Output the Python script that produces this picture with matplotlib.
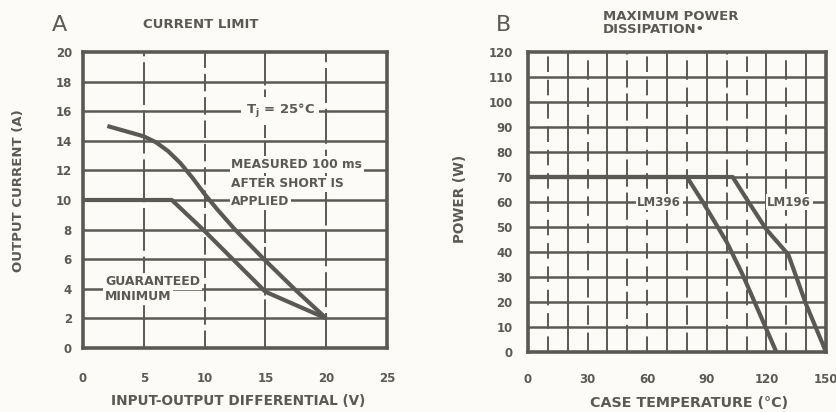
import matplotlib.pyplot as plt
import numpy as np

# ── Data ──
# Panel A: current limit vs input-output differential
measured_v = [2, 5, 6, 7, 8, 9, 10, 11, 12.5, 15, 17.5, 20]
measured_a = [15.0, 14.3, 13.9, 13.3, 12.5, 11.5, 10.4, 9.4, 8.0, 5.9, 3.9, 2.0]
guaranteed_v = [0, 7.3, 10, 15, 20]
guaranteed_a = [10.0, 10.0, 7.9, 3.8, 2.0]
a_xticks = [0, 5, 10, 15, 20, 25]
a_yticks = [0, 2, 4, 6, 8, 10, 12, 14, 16, 18, 20]

# Panel B: max power dissipation vs case temperature
lm396_t = [0, 80, 88, 100, 108, 125]
lm396_p = [70, 70, 60, 44, 31, 0]
lm196_t = [0, 103, 111, 120, 131, 140, 150]
lm196_p = [70, 70, 60, 49, 39, 19, 0]
b_xticks = [0, 30, 60, 90, 120, 150]
b_yticks = [0, 10, 20, 30, 40, 50, 60, 70, 80, 90, 100, 110, 120]

ink = "#5a5954"
paper = "#fcfbf7"
plt.rcParams["font.family"] = ["DejaVu Sans"]
plt.rcParams["font.weight"] = "bold"

fig = plt.figure(figsize=(8.37, 4.12), dpi=100, facecolor=paper)


def style_axes(ax, xgrid, ygrid, xlim, ylim, dash):
    ax.set_facecolor(paper)
    ax.set_xlim(*xlim)
    ax.set_ylim(*ylim)
    for g in ygrid:
        ax.axhline(g, color=ink, lw=1.8, zorder=1)
    for i, g in enumerate(xgrid):
        ax.axvline(g, color=ink, lw=1.4, ls=dash[i % len(dash)], zorder=1)
    for s in ax.spines.values():
        s.set_color(ink)
        s.set_linewidth(2.6)
    ax.tick_params(length=0, colors=ink, labelsize=8.5)


box = dict(facecolor=paper, edgecolor="none", pad=1.2)

# ── Panel A ──
axA = fig.add_axes([0.0992, 0.1553, 0.3632, 0.7185])
style_axes(axA, a_xticks[1:-1], a_yticks[1:-1], (0, 25), (0, 20),
           [(0, (22, 3)), (0, (9, 3)), (0, (25, 2)), (0, (18, 3))])
axA.set_xticks(a_xticks)
axA.set_yticks(a_yticks)
axA.tick_params(axis="x", pad=17)
axA.tick_params(axis="y", pad=8)
for lab in axA.get_xticklabels() + axA.get_yticklabels():
    lab.set_fontweight("bold")
axA.plot(measured_v, measured_a, color=ink, lw=3.0, zorder=3, solid_capstyle="butt")
axA.plot(guaranteed_v, guaranteed_a, color=ink, lw=3.0, zorder=3, solid_capstyle="butt")
axA.text(16.2, 16, r"T$_\mathregular{j}$ = 25°C", color=ink, fontsize=9.5, ha="center",
         va="center", bbox=dict(facecolor=paper, edgecolor="none", pad=3.5), zorder=4)
for txt, yv in [("MEASURED 100 ms", 12.4), ("AFTER SHORT IS", 11.1), ("APPLIED", 9.9)]:
    axA.text(12.2, yv, txt, color=ink, fontsize=8.8, ha="left", va="center", bbox=box, zorder=4)
axA.text(1.8, 4.5, "GUARANTEED", color=ink, fontsize=9, ha="left", va="center", bbox=box, zorder=4)
axA.text(1.8, 3.5, "MINIMUM", color=ink, fontsize=9, ha="left", va="center", bbox=box, zorder=4)
axA.set_xlabel("INPUT-OUTPUT DIFFERENTIAL (V)", color=ink, fontsize=9.8, fontweight="bold")
axA.set_ylabel("OUTPUT CURRENT (A)", color=ink, fontsize=9.5, fontweight="bold")
axA.xaxis.set_label_coords(0.51, -0.155)
axA.yaxis.set_label_coords(-0.19, 0.53)
fig.text(0.062, 0.94, "A", color=ink, fontsize=16, fontweight="normal", va="center")
fig.text(0.171, 0.94, "CURRENT LIMIT", color=ink, fontsize=9.5, va="center")

# ── Panel B ──
axB = fig.add_axes([0.6308, 0.1456, 0.3561, 0.7282])
style_axes(axB, list(range(10, 150, 10)), b_yticks[1:-1], (0, 150), (0, 120),
           [(0, (8, 4)), "-", (0, (10, 4)), "-", (0, (14, 3))])
axB.set_xticks(b_xticks)
axB.set_yticks(b_yticks)
axB.tick_params(axis="x", pad=15)
axB.tick_params(axis="y", pad=11)
for lab in axB.get_xticklabels() + axB.get_yticklabels():
    lab.set_fontweight("bold")
axB.plot(lm396_t, lm396_p, color=ink, lw=3.0, zorder=3)
axB.plot(lm196_t, lm196_p, color=ink, lw=3.0, zorder=3)
axB.text(66, 60, "LM396", color=ink, fontsize=8.5, ha="center", va="center", bbox=box, zorder=4)
axB.text(131.5, 60, "LM196", color=ink, fontsize=8.5, ha="center", va="center", bbox=box, zorder=4)
axB.set_xlabel("CASE TEMPERATURE (°C)", color=ink, fontsize=10.3, fontweight="bold")
axB.set_ylabel("POWER (W)", color=ink, fontsize=9.8, fontweight="bold")
axB.xaxis.set_label_coords(0.54, -0.148)
axB.yaxis.set_label_coords(-0.205, 0.51)
fig.text(0.592, 0.94, "B", color=ink, fontsize=16, fontweight="normal", va="center")
fig.text(0.72, 0.945, "MAXIMUM POWER\nDISSIPATION•", color=ink, fontsize=9.5, va="center",
         linespacing=1.0)

fig.savefig("out.png", dpi=100, facecolor=paper)
